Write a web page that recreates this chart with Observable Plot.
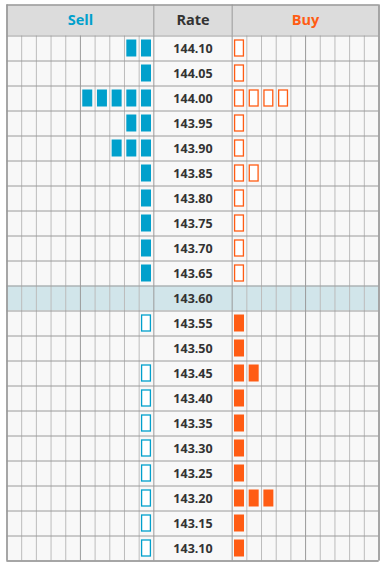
<!DOCTYPE html>
<html><head><meta charset="utf-8">
<script src="https://cdn.jsdelivr.net/npm/d3@7"></script>
<script src="https://cdn.jsdelivr.net/npm/@observablehq/plot@0.6"></script>
<style>html,body{margin:0;padding:0;background:#fff;} svg{display:block;}</style>
</head><body><div id="chart"></div>
<script>
const rates = ["144.10","144.05","144.00","143.95","143.90","143.85","143.80","143.75","143.70","143.65","143.60","143.55","143.50","143.45","143.40","143.35","143.30","143.25","143.20","143.15","143.10"];
const sellCounts = [2,1,5,2,3,1,1,1,1,1,0,1,0,1,1,1,1,1,1,1,1];
const buyCounts  = [1,1,4,1,1,2,1,1,1,1,0,1,1,2,1,1,1,1,3,1,1];
const midRate = "143.60";
const headers = ["Sell","Rate","Buy"];

const SELL_COLOR = "#00a0cc";
const BUY_COLOR = "#ff5c14";
const SIDE_COLS = 10;
const RATE_W = 78.4 / 14.7;
const X0R = SIDE_COLS + RATE_W;
const XMAX = X0R + SIDE_COLS;
const HEADER_H = 31 / 25;
const N = rates.length;
const mid = +midRate;

// row backgrounds
const rows = rates.map((r, i) => ({r, i, hl: r === midRate}));
// bars
const bars = [];
rates.forEach((r, i) => {
  const v = +r;
  for (let k = 0; k < sellCounts[i]; k++) bars.push({side: "sell", col: SIDE_COLS - 1 - k, i, filled: v > mid});
  for (let k = 0; k < buyCounts[i]; k++) bars.push({side: "buy", col: X0R + k, i, filled: v < mid});
});
// vertical grid lines
const vlines = [];
for (let c = 0; c <= SIDE_COLS; c++) {
  vlines.push({x: c, heavy: c === 0 || c === 5 || c === SIDE_COLS});
  vlines.push({x: X0R + c, heavy: c === 0 || c === 5 || c === SIDE_COLS});
}
const hlines = d3.range(0, N + 1).map(i => ({y: i}));
const headerLines = [0, SIDE_COLS, X0R, XMAX];
const headerPos = [SIDE_COLS / 2, SIDE_COLS + RATE_W / 2, X0R + SIDE_COLS / 2];
const headerColors = [SELL_COLOR, "#333333", BUY_COLOR];
const headerData = headers.map((h, j) => ({h, x: headerPos[j], c: headerColors[j]}));

const inset = 0.16;
const insetY = 0.16;

const chart = Plot.plot({
  width: 383,
  height: 567,
  marginLeft: 6.5,
  marginRight: 4.5,
  marginTop: 4.5,
  marginBottom: 6.5,
  x: {type: "linear", domain: [0, XMAX], axis: null},
  y: {type: "linear", domain: [-HEADER_H, N], reverse: true, axis: null},
  style: {fontFamily: "'Open Sans', sans-serif", background: "#fff"},
  marks: [
    Plot.rect([0], {x1: 0, x2: XMAX, y1: -HEADER_H, y2: 0, fill: "#dcdcdc"}),
    Plot.rect(rows, {x1: 0, x2: XMAX, y1: d => d.i, y2: d => d.i + 1, fill: d => d.hl ? "#d1e5ea" : "#f8f8f8"}),
    Plot.ruleX(vlines.filter(d => !d.heavy), {x: "x", y1: 0, y2: N, stroke: "#bcbcbc", strokeWidth: 1}),
    Plot.ruleX(vlines.filter(d => d.heavy), {x: "x", y1: 0, y2: N, stroke: "#9a9a9a", strokeWidth: 1}),
    Plot.ruleX(headerLines, {x: d => d, y1: -HEADER_H, y2: 0, stroke: "#9a9a9a", strokeWidth: 1}),
    Plot.ruleY(hlines, {y: "y", x1: 0, x2: XMAX, stroke: "#9a9a9a", strokeWidth: 1}),
    Plot.ruleY([-HEADER_H], {x1: 0, x2: XMAX, stroke: "#9a9a9a", strokeWidth: 1.5}),
    Plot.ruleX([0, XMAX], {y1: -HEADER_H, y2: N, stroke: "#9a9a9a", strokeWidth: 1.5}),
    Plot.ruleY([N], {x1: 0, x2: XMAX, stroke: "#9a9a9a", strokeWidth: 1.5}),
    Plot.rect(bars.filter(d => d.filled), {
      x1: d => d.col + inset, x2: d => d.col + 1 - inset,
      y1: d => d.i + insetY, y2: d => d.i + 1 - insetY,
      fill: d => d.side === "sell" ? SELL_COLOR : BUY_COLOR
    }),
    Plot.rect(bars.filter(d => !d.filled), {
      x1: d => d.col + inset + 0.04, x2: d => d.col + 1 - inset - 0.04,
      y1: d => d.i + insetY + 0.02, y2: d => d.i + 1 - insetY - 0.02,
      fill: "#ffffff",
      stroke: d => d.side === "sell" ? SELL_COLOR : BUY_COLOR,
      strokeWidth: 1.3
    }),
    Plot.text(rows, {x: SIDE_COLS + RATE_W / 2, y: d => d.i + 0.5, text: "r", fontSize: 12.5, fontWeight: "bold", fill: "#333", textAnchor: "middle"}),
    Plot.text(headerData, {x: "x", y: -HEADER_H / 2, text: "h", fill: d => d.c, fontSize: 14.5, fontWeight: "bold", textAnchor: "middle"})
  ]
});
document.getElementById("chart").append(chart);
</script>
</body></html>
